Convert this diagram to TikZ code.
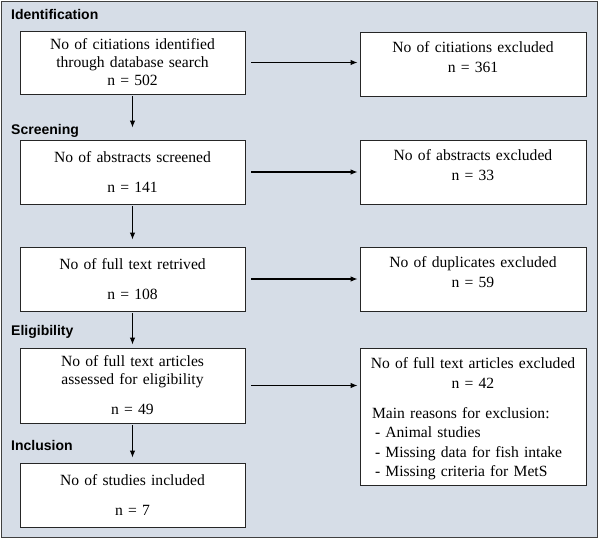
\documentclass[tikz,border=0pt]{standalone}
\usepackage{fontspec}
\setmainfont{Liberation Serif}
\setsansfont{Liberation Sans}
\usetikzlibrary{arrows.meta}
\definecolor{panelbg}{RGB}{214,221,231}

\begin{document}
\begin{tikzpicture}[
    x=1pt, y=-1pt,
    inbox/.style = {
      shape=rectangle,
      draw=black!85, line width=0.8pt,
      fill=white,
      align=center,
      text width=215pt,
      minimum width=225pt,
      inner xsep=5pt,
      font=\fontsize{15.6}{18}\selectfont
    },
    outbox/.style = {
      shape=rectangle,
      draw=black!85, line width=0.8pt,
      fill=white,
      anchor=north,
      align=center,
      text width=206pt,
      inner xsep=10pt, inner ysep=5pt,
      text height=15.5pt,
      font=\fontsize{15.6}{19.5}\selectfont
    },
    phase/.style = {
      anchor=base west, inner sep=0pt,
      font=\sffamily\bfseries\fontsize{14}{16}\selectfont
    },
    flow/.style = {-{Latex[length=7pt,width=5.5pt]}, line width=1.1pt}
  ]

  \path[use as bounding box] (0,0) rectangle (600,540);
  \draw[fill=panelbg, draw=black!75, line width=1pt] (1.5,1.5) rectangle (597.5,537.5);

  \node[phase] (lident) at (11,19.5) {Identification};
  \node[phase] (lscreen) at (11,135) {Screening};
  \node[phase] (lelig) at (11,335) {Eligibility};
  \node[phase] (lincl) at (11,450) {Inclusion};

  \node[inbox, minimum height=63pt] (ident) at (132.5,62.5)
    {No of citiations identified\\ through database search\\ n = 502};
  \node[inbox, minimum height=64pt] (screen) at (132.5,172)
    {No of abstracts screened\\[12pt] n = 141};
  \node[inbox, minimum height=64pt] (fulltext) at (132.5,279)
    {No of full text retrived\\[12pt] n = 108};
  \node[inbox, minimum height=75pt] (elig) at (132.5,385.5)
    {No of full text articles\\ assessed for eligibility\\[12pt] n = 49};
  \node[inbox, minimum height=64pt] (incl) at (132.5,495)
    {No of studies included\\[12pt] n = 7};

  \node[outbox, text depth=38.5pt] (xident) at (473,32)
    {No of citiations excluded\\ n = 361};
  \node[outbox, text depth=38.5pt] (xscreen) at (473,140)
    {No of abstracts excluded\\ n = 33};
  \node[outbox, text depth=38.5pt] (xfull) at (473,247)
    {No of duplicates excluded\\ n = 59};
  \node[outbox, text depth=111.5pt, align=left] (xelig) at (473,348)
    {\makebox[\linewidth]{No of full text articles excluded}\\
     \makebox[\linewidth]{n = 42}\\[10.5pt]
     \hspace*{2pt}Main reasons for exclusion:\\
     \hspace*{5pt}- Animal studies\\
     \hspace*{5pt}- Missing data for fish intake\\
     \hspace*{5pt}- Missing criteria for MetS};

  \foreach \a/\b/\g in {ident/screen/12, screen/fulltext/7, fulltext/elig/3, elig/incl/5}
    \draw[flow, shorten <=2pt, shorten >=\g pt] (\a) -- (\b);

  \foreach \a/\b in {ident/xident, screen/xscreen, fulltext/xfull, elig/xelig}
    \draw[flow, shorten <=6pt, shorten >=2pt] (\a.east) -- (\a.east -| \b.west);

\end{tikzpicture}
\end{document}
